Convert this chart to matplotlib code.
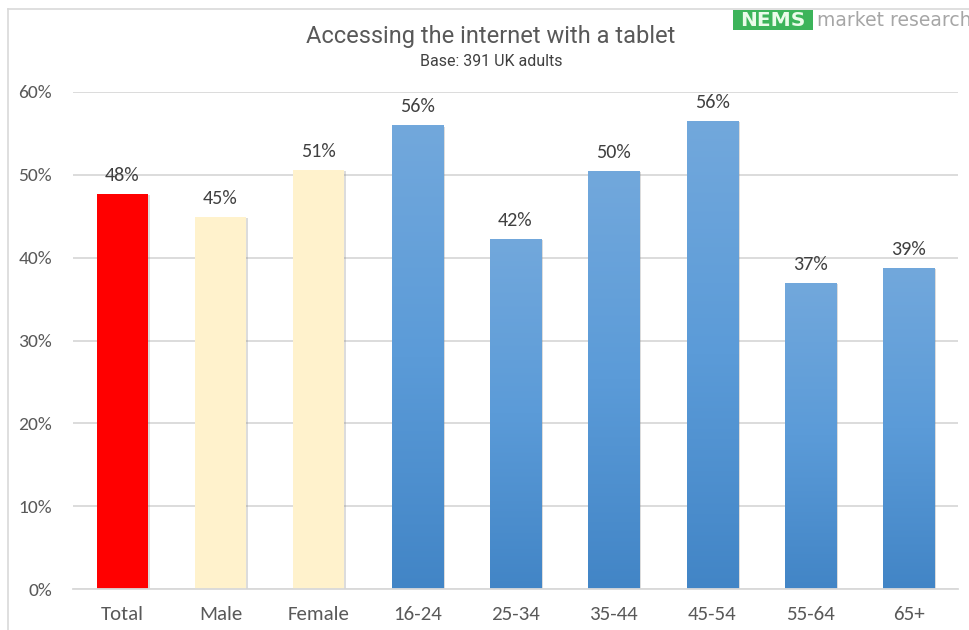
import numpy as np
import matplotlib
matplotlib.use("Agg")
import matplotlib.pyplot as plt
import matplotlib.patheffects as pe
from matplotlib.colors import LinearSegmentedColormap
from matplotlib.lines import Line2D
from matplotlib.patches import Rectangle

# Share of UK adults accessing the internet with a tablet, by group (%)
categories = ["Total", "Male", "Female", "16-24", "25-34", "35-44", "45-54", "55-64", "65+"]
values = [47.7, 44.9, 50.6, 56.0, 42.3, 50.5, 56.5, 37.0, 38.8]
groups = ["total", "gender", "gender", "age", "age", "age", "age", "age", "age"]
y_ticks = [0, 10, 20, 30, 40, 50, 60]
title = "Accessing the internet with a tablet"
subtitle = "Base: 391 UK adults"

label_font = ["Carlito", "Lato", "DejaVu Sans"]
head_font = ["Roboto", "Liberation Sans", "DejaVu Sans"]

fig = plt.figure(figsize=(9.7, 6.3), dpi=100)
fig.patch.set_facecolor("white")
ax = fig.add_axes([73 / 970, 1 - 589 / 630, 885 / 970, (589 - 92) / 630])

x = np.arange(len(categories))
width = 0.52
solid = {"total": "#ff0000", "gender": "#fff2cc"}
blue_cmap = LinearSegmentedColormap.from_list("blue_fill", ["#4285c6", "#5b9bd8", "#72a8dc"])
shadow = [pe.SimplePatchShadow(offset=(1.5, -1.0), shadow_rgbFace="#8c8c8c", alpha=0.3), pe.Normal()]

bars = ax.bar(x, values, width=width, zorder=3, linewidth=0,
              color=[solid.get(g, "#5b9bd5") for g in groups])
for bar, g in zip(bars, groups):
    bar.set_path_effects(shadow)
    if g == "age":
        x0 = bar.get_x()
        h = bar.get_height()
        grad = np.linspace(0, 1, 256).reshape(-1, 1)
        im = ax.imshow(grad, cmap=blue_cmap, origin="lower", aspect="auto",
                       extent=[x0, x0 + bar.get_width(), 0, h], zorder=3.5)
        im.set_clip_path(bar)

for xi, v in zip(x, values):
    ax.annotate(f"{v:.0f}%", (xi, v), xytext=(0, 7), textcoords="offset points",
                ha="center", va="bottom", fontsize=14.5, color="#404040",
                family=label_font, zorder=5, annotation_clip=False)

ax.set_xlim(-0.5, len(categories) - 0.5)
ax.set_ylim(0, 60)
ax.set_yticks(y_ticks)
ax.set_yticklabels([f"{t}%" for t in y_ticks], family=label_font, fontsize=14, color="#595959")
ax.set_xticks(x)
ax.set_xticklabels(categories, family=label_font, fontsize=15, color="#595959")
ax.tick_params(axis="both", length=0)
ax.tick_params(axis="y", pad=15)
ax.tick_params(axis="x", pad=12)
ax.grid(axis="y", color="#d9d9d9", linewidth=1.3, zorder=0)
ax.set_axisbelow(True)
for side in ["top", "right", "left"]:
    ax.spines[side].set_visible(False)
ax.spines["bottom"].set_color("#d9d9d9")
ax.spines["bottom"].set_linewidth(1.3)
ax.spines["bottom"].set_zorder(4)

# Chart border (top and left edges)
fig.add_artist(Line2D([8 / 970, 8 / 970], [0, 1 - 9 / 630], transform=fig.transFigure,
                      color="#d9d9d9", linewidth=1.2))
fig.add_artist(Line2D([8 / 970, 1], [1 - 9 / 630, 1 - 9 / 630], transform=fig.transFigure,
                      color="#d9d9d9", linewidth=1.2))

fig.text(491 / 970, 1 - 36 / 630, title, ha="center", va="center", fontsize=17,
         color="#595959", family=head_font)
fig.text(491 / 970, 1 - 61 / 630, subtitle, ha="center", va="center", fontsize=11.5,
         color="#404040", family=head_font)

# Company logo, top right
fig.add_artist(Rectangle((733 / 970, 1 - 30 / 630), 80 / 970, 20 / 630, transform=fig.transFigure,
                         facecolor="#3cb45a", edgecolor="none", zorder=6))
fig.text(773 / 970, 1 - 20 / 630, "NEMS", ha="center", va="center", fontsize=14.5,
         fontweight="bold", color="#eafbe9", family=["DejaVu Sans"], zorder=7)
fig.text(817 / 970, 1 - 20 / 630, "market research", ha="left", va="center", fontsize=13.5,
         color="#a6a6a6", family=["DejaVu Sans"], zorder=7)

fig.savefig("out.png", dpi=100, facecolor="white")
